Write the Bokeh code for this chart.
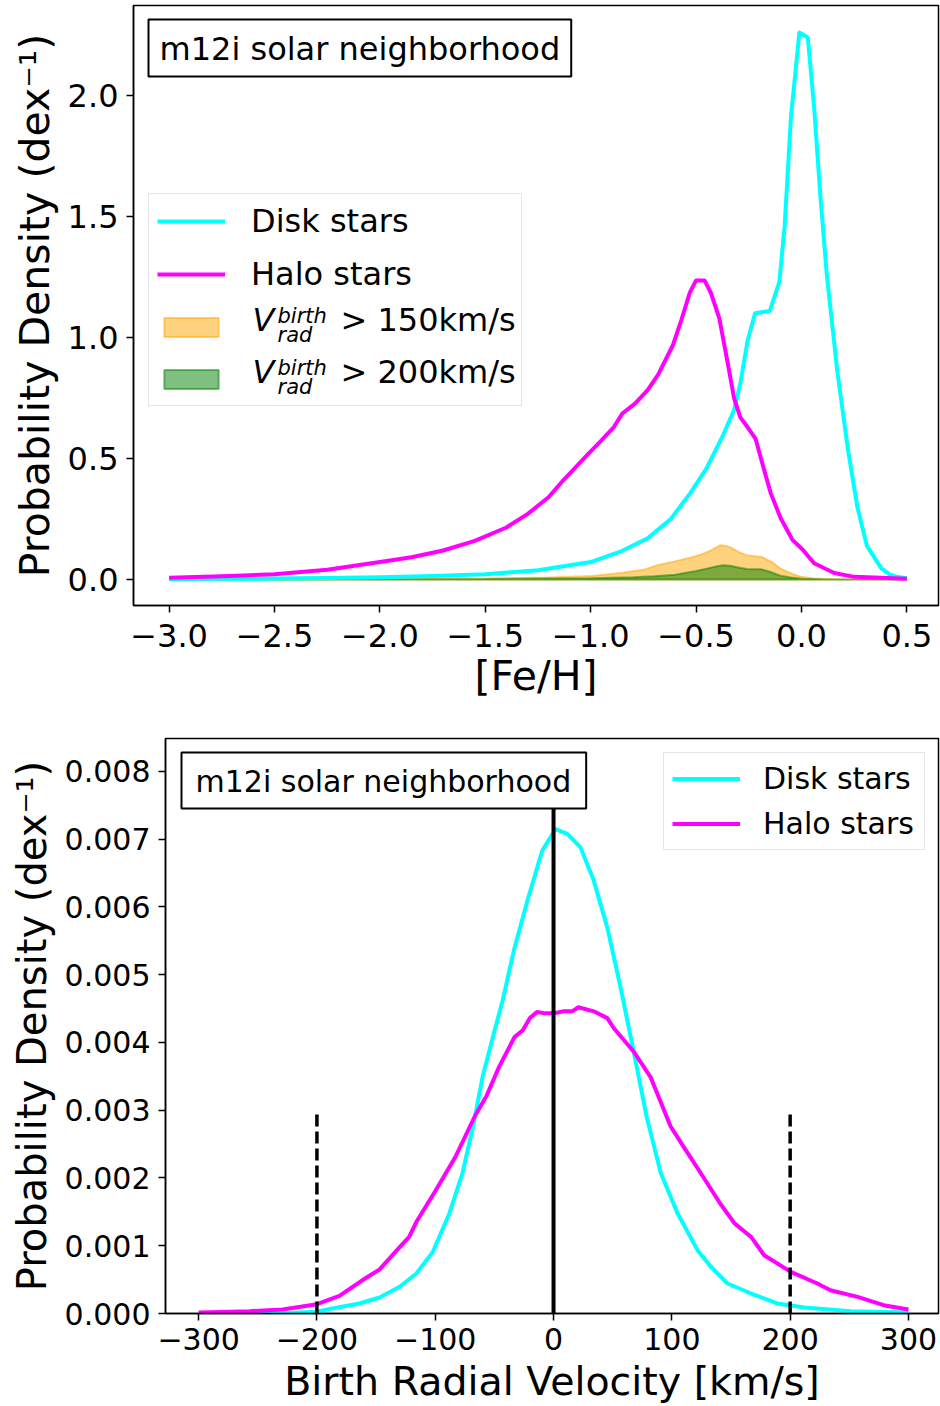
from bokeh.plotting import figure
from bokeh.layouts import column
from bokeh.models import Range1d, FixedTicker, Label, Legend, LegendItem
from bokeh.embed import file_html
from bokeh.resources import INLINE

FONT = "DejaVu Sans"
DISK_COLOR = "#00ffff"
HALO_COLOR = "#ff00ff"

# ---------------- [Fe/H] distributions (dex^-1) ----------------
DISK_FEH = [-3.0, -2.75, -2.5, -2.25, -2.0, -1.75, -1.5, -1.25, -1.0,
            -0.86, -0.73, -0.62, -0.525, -0.45, -0.37, -0.32, -0.29, -0.255,
            -0.22, -0.15, -0.105, -0.08, -0.05, -0.01, 0.03, 0.06, 0.09,
            0.12, 0.17, 0.22, 0.265, 0.31, 0.35, 0.38, 0.42, 0.46, 0.5]
DISK_FEH_PDF = [0.002, 0.003, 0.004, 0.006, 0.009, 0.014, 0.022, 0.038, 0.072,
                0.115, 0.17, 0.25, 0.36, 0.46, 0.60, 0.70, 0.81, 0.99,
                1.10, 1.11, 1.23, 1.46, 1.91, 2.26, 2.24, 1.95, 1.58,
                1.26, 0.86, 0.54, 0.30, 0.14, 0.085, 0.045, 0.02, 0.01, 0.005]

HALO_FEH = [-3.0, -2.75, -2.5, -2.25, -2.0, -1.85, -1.7, -1.55, -1.4, -1.3,
            -1.2, -1.13, -1.016, -0.95, -0.89, -0.85, -0.79, -0.73, -0.68, -0.61,
            -0.57, -0.53, -0.50, -0.46, -0.43, -0.39, -0.35, -0.32, -0.29, -0.256,
            -0.217, -0.185, -0.146, -0.098, -0.043, 0.005, 0.06, 0.155, 0.25, 0.5]
HALO_FEH_PDF = [0.007, 0.013, 0.022, 0.04, 0.072, 0.092, 0.12, 0.16, 0.215, 0.27,
                0.34, 0.41, 0.515, 0.574, 0.63, 0.686, 0.727, 0.783, 0.847, 0.968,
                1.072, 1.185, 1.236, 1.236, 1.185, 1.08, 0.895, 0.75, 0.67, 0.63,
                0.58, 0.477, 0.357, 0.252, 0.164, 0.124, 0.067, 0.027, 0.011, 0.003]

FAST150_FEH = [-3.0, -2.0, -1.5, -1.2, -1.0, -0.85, -0.75, -0.68, -0.6, -0.53,
               -0.47, -0.43, -0.385, -0.36, -0.335, -0.3, -0.26, -0.22, -0.19,
               -0.14, -0.1, -0.04, 0.0, 0.06, 0.15, 0.5]
FAST150_PDF = [0.0, 0.002, 0.004, 0.008, 0.014, 0.028, 0.04, 0.06, 0.075, 0.09,
               0.105, 0.12, 0.142, 0.14, 0.132, 0.115, 0.10, 0.096, 0.094,
               0.072, 0.045, 0.022, 0.011, 0.004, 0.001, 0.0]

FAST200_FEH = [-3.0, -2.0, -1.5, -1.0, -0.8, -0.7, -0.6, -0.5, -0.45, -0.4,
               -0.37, -0.34, -0.3, -0.26, -0.22, -0.19, -0.15, -0.1, -0.05,
               0.0, 0.1, 0.5]
FAST200_PDF = [0.0, 0.001, 0.002, 0.005, 0.009, 0.013, 0.02, 0.035, 0.045, 0.055,
               0.059, 0.057, 0.05, 0.043, 0.042, 0.042, 0.032, 0.016, 0.008,
               0.003, 0.001, 0.0]

FEH_TICKS = [-3.0, -2.5, -2.0, -1.5, -1.0, -0.5, 0.0, 0.5]
FEH_TICK_LABELS = ["−3.0", "−2.5", "−2.0", "−1.5", "−1.0", "−0.5", "0.0", "0.5"]
FEH_PDF_TICKS = [0.0, 0.5, 1.0, 1.5, 2.0]
FEH_PDF_TICK_LABELS = ["0.0", "0.5", "1.0", "1.5", "2.0"]

# ---------------- birth radial velocity distributions ----------------
# densities are listed in units of 1e-3
DISK_VEL = [-300, -250, -220, -200, -187, -164, -147, -130, -116, -102,
            -88, -77, -68, -60, -51, -43, -33.5, -22, -9.6, 1.7,
            11.6, 22.8, 34, 45.4, 56.6, 67.9, 79, 90.7, 104.8, 121.7,
            133, 147, 167, 189, 212, 251, 300]
DISK_VEL_PDF_E3 = [0.0, 0.005, 0.012, 0.025, 0.074, 0.148, 0.236, 0.394, 0.59, 0.91,
                   1.48, 2.07, 2.76, 3.49, 4.1, 4.62, 5.36, 6.10, 6.83, 7.15,
                   7.08, 6.88, 6.39, 5.70, 4.82, 3.85, 2.88, 2.07, 1.48, 0.935,
                   0.69, 0.443, 0.295, 0.148, 0.089, 0.034, 0.015]

HALO_VEL = [-300, -257, -229, -200, -181, -159, -147, -130, -122, -116,
            -99.5, -83, -66, -57, -46, -33, -26, -20, -14, -7,
            0, 8.7, 15.8, 21, 34, 45.4, 51, 68, 82, 99,
            110, 124.5, 141, 153, 167, 178, 200.6, 223, 234, 257,
            279, 300]
HALO_VEL_PDF_E3 = [0.015, 0.034, 0.059, 0.138, 0.26, 0.52, 0.65, 0.98, 1.13, 1.35,
                   1.82, 2.31, 2.93, 3.20, 3.64, 4.08, 4.18, 4.36, 4.45, 4.43,
                   4.43, 4.46, 4.46, 4.52, 4.46, 4.36, 4.21, 3.86, 3.49, 2.76,
                   2.46, 2.07, 1.62, 1.33, 1.13, 0.86, 0.615, 0.443, 0.344, 0.246,
                   0.123, 0.059]
PDF_UNIT = 1e-3

VEL_ZERO = [0]
ZERO_LINE_TOP = 0.008
VEL_CUTS = [-200, 200]
CUT_LINE_TOP = 0.003

VEL_TICKS = [-300, -200, -100, 0, 100, 200, 300]
VEL_TICK_LABELS = ["−300", "−200", "−100", "0", "100", "200", "300"]
VEL_PDF_TICKS = [0.0, 0.001, 0.002, 0.003, 0.004, 0.005, 0.006, 0.007, 0.008]
VEL_PDF_TICK_LABELS = ["0.000", "0.001", "0.002", "0.003", "0.004",
                       "0.005", "0.006", "0.007", "0.008"]

Y_LABEL = "Probability Density (dex⁻¹)"


def style_axes(p, tick_px, xlabel_px, ylabel_px, x_tick_standoff,
               x_label_standoff, y_tick_standoff, y_label_standoff):
    p.background_fill_color = "white"
    p.border_fill_color = "white"
    p.outline_line_color = "black"
    p.outline_line_width = 1.5
    p.grid.visible = False
    for ax in p.axis:
        ax.axis_line_color = "black"
        ax.axis_line_width = 1.5
        ax.major_tick_line_color = "black"
        ax.major_tick_line_width = 1.5
        ax.major_tick_out = 7
        ax.major_tick_in = 0
        ax.minor_tick_out = 0
        ax.minor_tick_in = 0
        ax.major_label_text_font = FONT
        ax.major_label_text_font_size = tick_px
        ax.major_label_text_color = "black"
        ax.axis_label_text_font = FONT
        ax.axis_label_text_font_style = "normal"
        ax.axis_label_text_color = "black"
    p.xaxis.axis_label_text_font_size = xlabel_px
    p.yaxis.axis_label_text_font_size = ylabel_px
    p.xaxis.major_label_standoff = x_tick_standoff
    p.xaxis.axis_label_standoff = x_label_standoff
    p.yaxis.major_label_standoff = y_tick_standoff
    p.yaxis.axis_label_standoff = y_label_standoff


def set_ticks(axis, ticks, labels):
    axis.ticker = FixedTicker(ticks=ticks)
    axis.major_label_overrides = {t: s for t, s in zip(ticks, labels)}


def screen_label(text, x, y, size, style="normal"):
    return Label(x=x, y=y, x_units="screen", y_units="screen", text=text,
                 text_font=FONT, text_font_size=size, text_font_style=style,
                 text_color="black", level="overlay")


# ======================= metallicity panel =======================
p1 = figure(width=940, height=710, x_range=Range1d(-3.169, 0.650),
            y_range=Range1d(-0.1074, 2.372), output_backend="svg",
            toolbar_location=None, min_border_left=133, min_border_right=2,
            min_border_top=5, min_border_bottom=105)
style_axes(p1, "32px", "41px", "41px", 11, 2, 8, 6)
p1.xaxis.axis_label = "[Fe/H]"
p1.yaxis.axis_label = Y_LABEL
set_ticks(p1.xaxis, FEH_TICKS, FEH_TICK_LABELS)
set_ticks(p1.yaxis, FEH_PDF_TICKS, FEH_PDF_TICK_LABELS)

r150 = p1.patch(FAST150_FEH + FAST150_FEH[::-1],
                FAST150_PDF + [0.0] * len(FAST150_PDF),
                fill_color="orange", fill_alpha=0.5,
                line_color="orange", line_alpha=0.5, line_width=2)
r200 = p1.patch(FAST200_FEH + FAST200_FEH[::-1],
                FAST200_PDF + [0.0] * len(FAST200_PDF),
                fill_color="green", fill_alpha=0.5,
                line_color="green", line_alpha=0.5, line_width=2)
r_disk1 = p1.line(DISK_FEH, DISK_FEH_PDF, line_color=DISK_COLOR,
                  line_width=4, line_join="round")
r_halo1 = p1.line(HALO_FEH, HALO_FEH_PDF, line_color=HALO_COLOR,
                  line_width=4, line_join="round")

# legend geometry (screen px, relative to the frame's lower-left corner)
LEG_PAD, LEG_ROW, LEG_GAP = 8, 37, 15
LEG1_X, LEG1_Y = 15, 199
leg1 = Legend(items=[LegendItem(label="Disk stars", renderers=[r_disk1]),
                     LegendItem(label="Halo stars", renderers=[r_halo1]),
                     LegendItem(label="", renderers=[r150]),
                     LegendItem(label="", renderers=[r200])],
              location=(LEG1_X, LEG1_Y), orientation="vertical",
              padding=LEG_PAD, spacing=LEG_GAP, margin=0,
              glyph_width=68, glyph_height=24, label_height=LEG_ROW,
              label_width=262, label_standoff=26,
              label_text_font=FONT, label_text_font_size="32px",
              label_text_color="black",
              border_line_color="#cccccc", border_line_width=1.5,
              background_fill_color="white", background_fill_alpha=0.0)
p1.add_layout(leg1)

# velocity-cut entries: V with "birth" superscript and "rad" subscript
leg1_top = LEG1_Y + 2 * LEG_PAD + 4 * LEG_ROW + 3 * LEG_GAP
for row, cut_text in ((2, "> 150km/s"), (3, "> 200km/s")):
    centre = leg1_top - LEG_PAD - LEG_ROW / 2 - row * (LEG_ROW + LEG_GAP)
    p1.add_layout(screen_label("V", 119, centre - 11, "32px", "italic"))
    p1.add_layout(screen_label("birth", 144, centre, "21px", "italic"))
    p1.add_layout(screen_label("rad", 144, centre - 19, "21px", "italic"))
    p1.add_layout(screen_label(cut_text, 207, centre - 11, "32px"))

p1.add_layout(Label(x=15, y=586, x_units="screen", y_units="screen",
                    text="m12i solar neighborhood", anchor="top_left",
                    padding=dict(left=11, right=11, top=10, bottom=9),
                    text_font=FONT, text_font_size="32px",
                    text_color="black", border_line_color="black",
                    border_line_width=2, background_fill_color="white"))

# ======================= velocity panel =======================
p2 = figure(width=940, height=696, x_range=Range1d(-328.0, 325.4),
            y_range=Range1d(0.0, 0.008487), output_backend="svg",
            toolbar_location=None, min_border_left=165, min_border_right=2,
            min_border_top=28, min_border_bottom=93)
style_axes(p2, "30px", "39.5px", "40px", 7, 5, 8, 7)
p2.xaxis.axis_label = "Birth Radial Velocity [km/s]"
p2.yaxis.axis_label = Y_LABEL
set_ticks(p2.xaxis, VEL_TICKS, VEL_TICK_LABELS)
set_ticks(p2.yaxis, VEL_PDF_TICKS, VEL_PDF_TICK_LABELS)

r_disk2 = p2.line(DISK_VEL, [v * PDF_UNIT for v in DISK_VEL_PDF_E3],
                  line_color=DISK_COLOR, line_width=4, line_join="round")
r_halo2 = p2.line(HALO_VEL, [v * PDF_UNIT for v in HALO_VEL_PDF_E3],
                  line_color=HALO_COLOR, line_width=4, line_join="round")
p2.segment(x0=VEL_ZERO, y0=[0.0], x1=VEL_ZERO, y1=[ZERO_LINE_TOP],
           line_color="black", line_width=4)
p2.segment(x0=VEL_CUTS, y0=[0.0] * len(VEL_CUTS), x1=VEL_CUTS,
           y1=[CUT_LINE_TOP] * len(VEL_CUTS), line_color="black",
           line_width=3.5, line_dash="12 5")

leg2 = Legend(items=[LegendItem(label="Disk stars", renderers=[r_disk2]),
                     LegendItem(label="Halo stars", renderers=[r_halo2])],
              location=(498, 463), orientation="vertical",
              padding=8, spacing=10, margin=0,
              glyph_width=68, glyph_height=35, label_height=35,
              label_width=153, label_standoff=23,
              label_text_font=FONT, label_text_font_size="30px",
              label_text_color="black",
              border_line_color="#cccccc", border_line_width=1.5,
              background_fill_color="white", background_fill_alpha=0.8)
p2.add_layout(leg2)

p2.add_layout(Label(x=16, y=561, x_units="screen", y_units="screen",
                    text="m12i solar neighborhood", anchor="top_left",
                    padding=dict(left=14, right=15, top=11, bottom=10),
                    text_font=FONT, text_font_size="30px",
                    text_color="black", border_line_color="black",
                    border_line_width=2, background_fill_color="white"))

# each panel keeps its own frame edges
for p in (p1, p2):
    p.frame_align = False

layout = column(p1, p2, spacing=0)
open("out.html", "w").write(file_html(layout, INLINE))
